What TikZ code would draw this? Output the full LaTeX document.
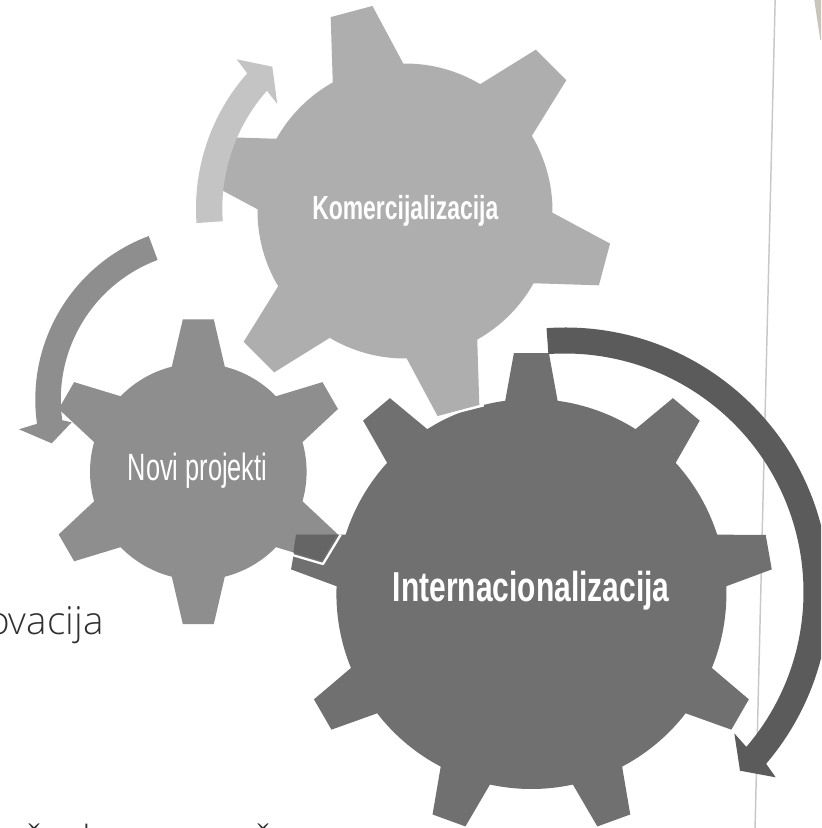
\documentclass[tikz,border=0pt]{standalone}
\usepackage{graphicx}
\usepackage{fontspec}
\usetikzlibrary{calc}
\setmainfont{Open Sans Light}
\newfontfamily\gearfont{Liberation Sans}
\definecolor{gearbig}{HTML}{707070}
\definecolor{arrowbig}{HTML}{5B5B5B}
\definecolor{gearnovi}{HTML}{8E8E8E}
\definecolor{gearkom}{HTML}{AEAEAE}
\definecolor{arrowkom}{HTML}{C4C4C4}
\definecolor{patchdark}{HTML}{656565}
\definecolor{rulegrey}{HTML}{C8C8C8}
\definecolor{cornertan}{HTML}{C9C5B9}
\definecolor{bodytext}{HTML}{303030}
% colour, cx, cy, root radius, tip radius, tip half width, base half width, teeth, first angle
\newcommand\gearshape[9]{%
  \pgfmathsetmacro\gDB{asin(#7/#4)}%
  \pgfmathsetmacro\gRR{veclen(#5,#6)}%
  \pgfmathsetmacro\gDT{atan(#6/#5)}%
  \pgfmathsetmacro\gS{360/#8}%
  \begin{scope}[shift={(#2,-#3)}]
    \fill[#1] (#9+\gDB:#4)
      \foreach \k [evaluate=\k as \a using #9-(\k-1)*\gS] in {1,...,#8}{
        -- (\a+\gDB:#4) -- (\a+\gDT:\gRR) -- (\a-\gDT:\gRR) -- (\a-\gDB:#4)
        arc[start angle=\a-\gDB, end angle=\a-\gS+\gDB, radius=#4]
      } -- cycle;
  \end{scope}}
% colour, centre, inner r, outer r, start angle, end angle, outer barb, tip, inner barb
\newcommand\ringarrow[9]{%
  \fill[#1] ($(#2)+(#5:#4)$) arc[start angle=#5, end angle=#6, radius=#4]
    -- (#7) -- (#8) -- (#9) -- ($(#2)+(#6:#3)$)
    arc[start angle=#6, end angle=#5, radius=#3] -- cycle;}
\newcommand\gearlabel[3]{\resizebox{#1}{\height}{\gearfont\fontsize{#2}{#2}\selectfont #3}}
\begin{document}
\begin{tikzpicture}[x=0.75pt,y=0.75pt,
  gearlabel/.style={inner sep=0pt,outer sep=0pt,text=white,anchor=base},
  bodyword/.style={inner sep=0pt,outer sep=0pt,text=bodytext,font=\fontsize{29pt}{32pt}\selectfont,anchor=base}]
\useasboundingbox (0,0) rectangle (821,-828);
\clip (0,0) rectangle (821,-828);
\fill[white] (0,0) rectangle (821,-828);
% background
\draw[rulegrey,line width=1.1pt] (775.2,2) -- (755,-830);
\fill[cornertan] (814.3,0) -- (821,0) -- (821,-40) -- (820.3,-40) -- cycle;
\node[bodyword,anchor=base east] (word) at (103.5,-634.3) {ovacija};
\node[bodyword] (frag1) at (33,-853) {č};
\node[bodyword] (frag2) at (87,-853) {l};
\node[bodyword] (frag3) at (262,-853) {č};
% gears
\gearshape{gearnovi}{198.3}{471.7}{108.3}{152.3}{15.5}{26.5}{6}{90}
\gearshape{gearbig}{531.4}{594}{195}{241}{17.5}{26.2}{9}{90}
\fill[patchdark] (296,-534.7) -- (336.7,-534.7) -- (321.7,-561) -- (293.3,-552.3) -- cycle;
\draw[white,line width=1.7pt,line join=round] (340.7,-534.7) -- (323,-564) -- (292.3,-555);
\draw[white,line width=3pt] (436,-416.6) -- (483.5,-404.5);
\gearshape{gearkom}{405}{211}{147.5}{206.5}{21.6}{36.5}{6}{105}
% arrows
\ringarrow{arrowkom}{400,-208.5}{177.7}{204}{184.1}{138.5}{236.7,-59.3}{272.3,-66.7}{277.3,-104}
\ringarrow{gearnovi}{209.8,-399.5}{149}{174.5}{110.5}{188}{19,-429.3}{51.7,-443.3}{71.7,-422.3}
\ringarrow{arrowbig}{565,-592}{238.5}{264.5}{94}{-40.5}{775.7,-777.3}{740,-770.7}{734.3,-733.3}
% labels
\node[gearlabel] (kom) at (405.3,-219.3) {\gearlabel{139.5pt}{25pt}{\bfseries Komercijalizacija}};
\node[gearlabel] (novi) at (197.5,-480) {\gearlabel{104.7pt}{28.5pt}{Novi projekti}};
\node[gearlabel] (int) at (531.3,-601) {\gearlabel{207.5pt}{31.4pt}{\bfseries Internacionalizacija}};
\end{tikzpicture}
\end{document}
